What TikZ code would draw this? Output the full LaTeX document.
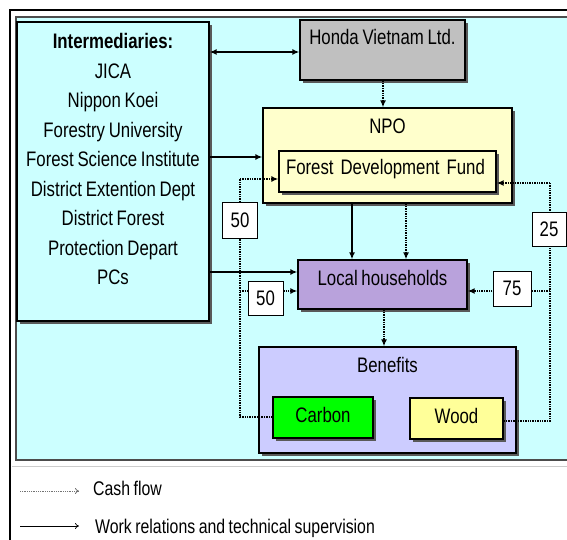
\documentclass[tikz,border=0pt]{standalone}
\usepackage{fontspec}
\setmainfont[FakeStretch=0.8,WordSpace=0.8]{Liberation Sans}
\usetikzlibrary{arrows.meta,shadows}
\definecolor{cyanbg}{HTML}{CCFFFF}
\definecolor{hondagray}{HTML}{C0C0C0}
\definecolor{npoyellow}{HTML}{FFFFCC}
\definecolor{hhpurple}{HTML}{B9A2DC}
\definecolor{benlav}{HTML}{CCCCFF}
\definecolor{carbongreen}{HTML}{00FF00}
\definecolor{woodyellow}{HTML}{FFFF99}
\tikzset{
  txt/.style={font=\fontsize{21}{25}\selectfont},
  box/.style={draw=black, line width=1.3pt, inner sep=0pt, txt,
    drop shadow={shadow xshift=3pt, shadow yshift=-3pt, fill=black!65, opacity=1}},
  numbox/.style={draw=black, line width=1pt, fill=white, inner sep=0pt, txt},
  work/.style={line width=1.5pt, -{Latex[length=7pt,width=6pt]}},
  cash/.style={line width=1.4pt, densely dotted, -{Latex[length=7pt,width=6pt]}},
  cashline/.style={line width=1.4pt, densely dotted},
  legtxt/.style={font=\fontsize{19.8}{23}\selectfont, anchor=base west, inner sep=0pt}
}
\begin{document}
\begin{tikzpicture}[x=1pt,y=-1pt]
\useasboundingbox (0,0) rectangle (567,540);
% frame and background
\fill[white] (0,0) rectangle (567,540);
\draw[line width=1.8pt] (10,540) -- (10,10) -- (567,10);
\fill[cyanbg] (16,17) rectangle (567,460);
\draw[black!70, line width=1.6pt] (567,17) -- (16,17) -- (16,460) -- (567,460);
\draw[black!20, line width=1pt] (12,466) -- (567,466);

% boxes
\node[box, fill=cyanbg, minimum width=192pt, minimum height=299pt, text height=27pt, text depth=272pt]
  (inter) at (113,171.5)
  {\vtop{\baselineskip=29.5pt\halign{\hfil#\hfil\cr\textbf{Intermediaries:}\cr JICA\cr Nippon Koei\cr Forestry University\cr Forest Science Institute\cr District Extention Dept\cr District Forest\cr Protection Depart\cr PCs\cr}}};
\node[box, fill=hondagray, minimum width=165pt, minimum height=60pt, text height=25pt, text depth=35pt]
  (honda) at (382.5,50) {Honda Vietnam Ltd.};
\node[box, fill=npoyellow, minimum width=249pt, minimum height=95pt, text height=26pt, text depth=69pt]
  (npo) at (387.5,155.5) {NPO};
\node[box, fill=npoyellow, text width=203pt, inner xsep=7pt, align=left, text height=24pt, text depth=17pt]
  (fdf) at (387.5,171.5) {Forest Development Fund};
\node[box, fill=hhpurple, minimum width=169pt, minimum height=49pt, text height=25pt, text depth=24pt]
  (hh) at (382.5,284.5) {Local households};
\node[box, fill=benlav, minimum width=257pt, minimum height=106pt, text height=25pt, text depth=81pt]
  (ben) at (387.5,400) {Benefits};
\node[box, fill=carbongreen, minimum width=100pt, minimum height=41pt, text height=25pt, text depth=16pt]
  (carbon) at (323,417.5) {Carbon};
\node[box, fill=woodyellow, minimum width=93pt, minimum height=41pt, text height=25pt, text depth=16pt]
  (wood) at (456.5,418.5) {Wood};

% work relations
\draw[line width=1.5pt, {Latex[length=7pt,width=6pt]}-{Latex[length=7pt,width=6pt]}]
  (inter.east |- 0,52) -- (honda.west |- 0,52);
\draw[work] (inter.east |- 0,157) -- (npo.west |- 0,157);
\draw[work] (inter.east |- 0,272) -- (hh.west |- 0,272);
\draw[work] (npo.south -| 352,0) -- (hh.north -| 352,0);

% cash flows
\draw[cash] (honda.south -| 383,0) -- (npo.north -| 383,0);
\draw[cash] (npo.south -| 406,0) -- (hh.north -| 406,0);
\draw[cash] (hh.south -| 384,0) -- (ben.north -| 384,0);

\coordinate (lb) at (240,417);
\coordinate (lt) at (240,179);
\coordinate (lm) at (240,291);
\draw[cashline] (carbon.west |- lb) -- (lb) -- (lt);
\draw[cash] (lt) -- (fdf.west |- lt);
\draw[cash] (lm) -- (hh.west |- lm);

\coordinate (rb) at (550,421);
\coordinate (rt) at (550,183);
\coordinate (rm) at (550,291);
\draw[cashline] (wood.east |- rb) -- (rb) -- (rt);
\draw[cash] (rt) -- (fdf.east |- rt);
\draw[cash] (rm) -- (hh.east |- rm);

% shares
\node[numbox, minimum width=35pt, minimum height=36pt] (s50a) at (240,220) {50};
\node[numbox, minimum width=35pt, minimum height=34pt] (s50b) at (265.5,298) {50};
\node[numbox, minimum width=38pt, minimum height=35pt] (s75) at (512,288.5) {75};
\node[numbox, minimum width=34pt, minimum height=34pt] (s25) at (549,229) {25};

% legend
\coordinate (la1) at (20,491);
\coordinate (la2) at (79,491);
\coordinate (lb1) at (20,526);
\coordinate (lb2) at (79,526);
\draw[black!55, line width=0.8pt, densely dotted, -{To[length=4pt,width=6pt]}] (la1) -- (la2);
\draw[black, line width=0.7pt, -{To[length=4pt,width=6pt]}] (lb1) -- (lb2);
\node[legtxt] (lcash) at (93,495) {Cash flow};
\node[legtxt] (lwork) at (95,533) {Work relations and technical supervision};
\end{tikzpicture}
\end{document}
